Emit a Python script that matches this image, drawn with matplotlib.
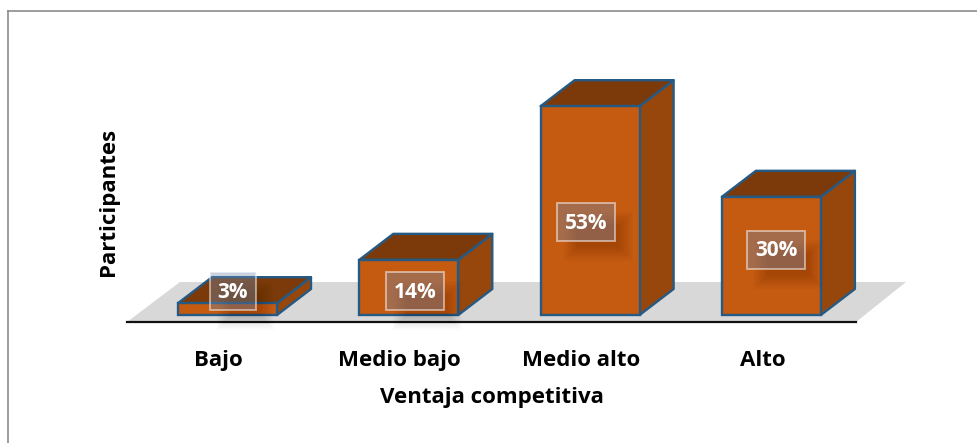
import matplotlib
matplotlib.use("Agg")
from matplotlib import pyplot as plt
from matplotlib.patches import Polygon, Rectangle

categories = ['Bajo', 'Medio bajo', 'Medio alto', 'Alto']
values = [3, 14, 53, 30]
labels = ['3%', '14%', '53%', '30%']
x_title = 'Ventaja competitiva'
y_title = 'Participantes'

W, H = 977, 443
front = '#C55A11'
side = '#98470C'
top = '#7C3A0A'
edge = '#255A85'
floor = '#D9D8D9'

plt.rcParams['font.family'] = ['Open Sans', 'DejaVu Sans']

fig = plt.figure(figsize=(W / 100, H / 100), dpi=100)

# whole figure overlay in pixels, y going down
bg = fig.add_axes([0, 0, 1, 1], zorder=0)
bg.set_xlim(0, W)
bg.set_ylim(H, 0)
bg.axis('off')
bg.plot([7.5, 7.5], [H, 10.5], color='#8C8C8C', lw=1.2)
bg.plot([7.5, W], [10.5, 10.5], color='#8C8C8C', lw=1.2)

# main axes: bottom spine sits on the axis line
x0, x1, y_axis, y_top = 127, 856, 322, 40
ax = fig.add_axes([x0 / W, 1 - y_axis / H, (x1 - x0) / W, (y_axis - y_top) / H], zorder=1)
ax.patch.set_alpha(0)

px_x = 181.3   # pixels per category step
px_y = 3.94    # pixels per percent
ax.set_xlim((x0 - 227.5) / px_x, (x1 - 227.5) / px_x)
ax.set_ylim((315 - y_axis) / px_y, (315 - y_top) / px_y)

for s in ['top', 'left', 'right']:
    ax.spines[s].set_visible(False)
ax.spines['bottom'].set_linewidth(1.6)
ax.spines['bottom'].set_color('#111111')
ax.set_yticks([])
# the tick labels sit a little left of the bars
ax.set_xticks([i - 0.05 for i in range(len(categories))])
ax.set_xticklabels(categories, fontsize=16, fontweight='bold')
ax.tick_params(axis='x', length=0, pad=20.5)
ax.set_xlabel(x_title, fontsize=16, fontweight='bold', labelpad=11)
ax.set_ylabel(y_title, fontsize=16, fontweight='bold')
ax.yaxis.set_label_coords((119 - x0) / (x1 - x0), (322 - 202) / (y_axis - y_top))

# floor
bottom_y = ax.get_ylim()[0]
ax.add_patch(Polygon([(ax.get_xlim()[0], bottom_y), (ax.get_xlim()[1], bottom_y),
                      ((906 - 227.5) / px_x, (315 - 282) / px_y), ((180 - 227.5) / px_x, (315 - 282) / px_y)],
                     fc=floor, ec='none', clip_on=False, zorder=1))

# bars
half = 49.5 / px_x
dx = 34 / px_x
dy = 26 / px_y
for i, v in enumerate(values):
    l, r = i - half, i + half
    ax.add_patch(Polygon([(r, 0), (r + dx, dy), (r + dx, v + dy), (r, v)],
                         fc=side, ec=edge, lw=1.7, joinstyle='round', clip_on=False, zorder=3))
    ax.add_patch(Polygon([(l, v), (r, v), (r + dx, v + dy), (l + dx, v + dy)],
                         fc=top, ec=edge, lw=1.7, joinstyle='round', clip_on=False, zorder=3))
    ax.add_patch(Rectangle((l, 0), r - l, v, fc=front, ec=edge, lw=1.7, clip_on=False, zorder=4))

# data labels in pixel space, with a soft shadow under each box
over = fig.add_axes([0, 0, 1, 1], zorder=2)
over.set_xlim(0, W)
over.set_ylim(H, 0)
over.axis('off')
box_left = [210, 386, 557, 747]
box_top = [272, 272, 203, 231]
box_w = [46, 58, 58, 58]
box_h = 38
for lab, bx, by, bw in zip(labels, box_left, box_top, box_w):
    for g in range(10):
        over.add_patch(Rectangle((bx + 20 - g * 1.5, by + 22 - g * 1.5), bw - 16 + g * 3, box_h - 16 + g * 3,
                                 fc='black', ec='none', alpha=0.014))
    over.add_patch(Rectangle((bx, by), bw, box_h, fc=(0.45, 0.55, 0.68, 0.38), ec=(1, 1, 1, 0.5), lw=1.4))
    over.text(bx + bw / 2, by + box_h / 2 + 1, lab, color='white', fontsize=15, fontweight='bold',
              ha='center', va='center')

fig.savefig('out.png', dpi=100)
